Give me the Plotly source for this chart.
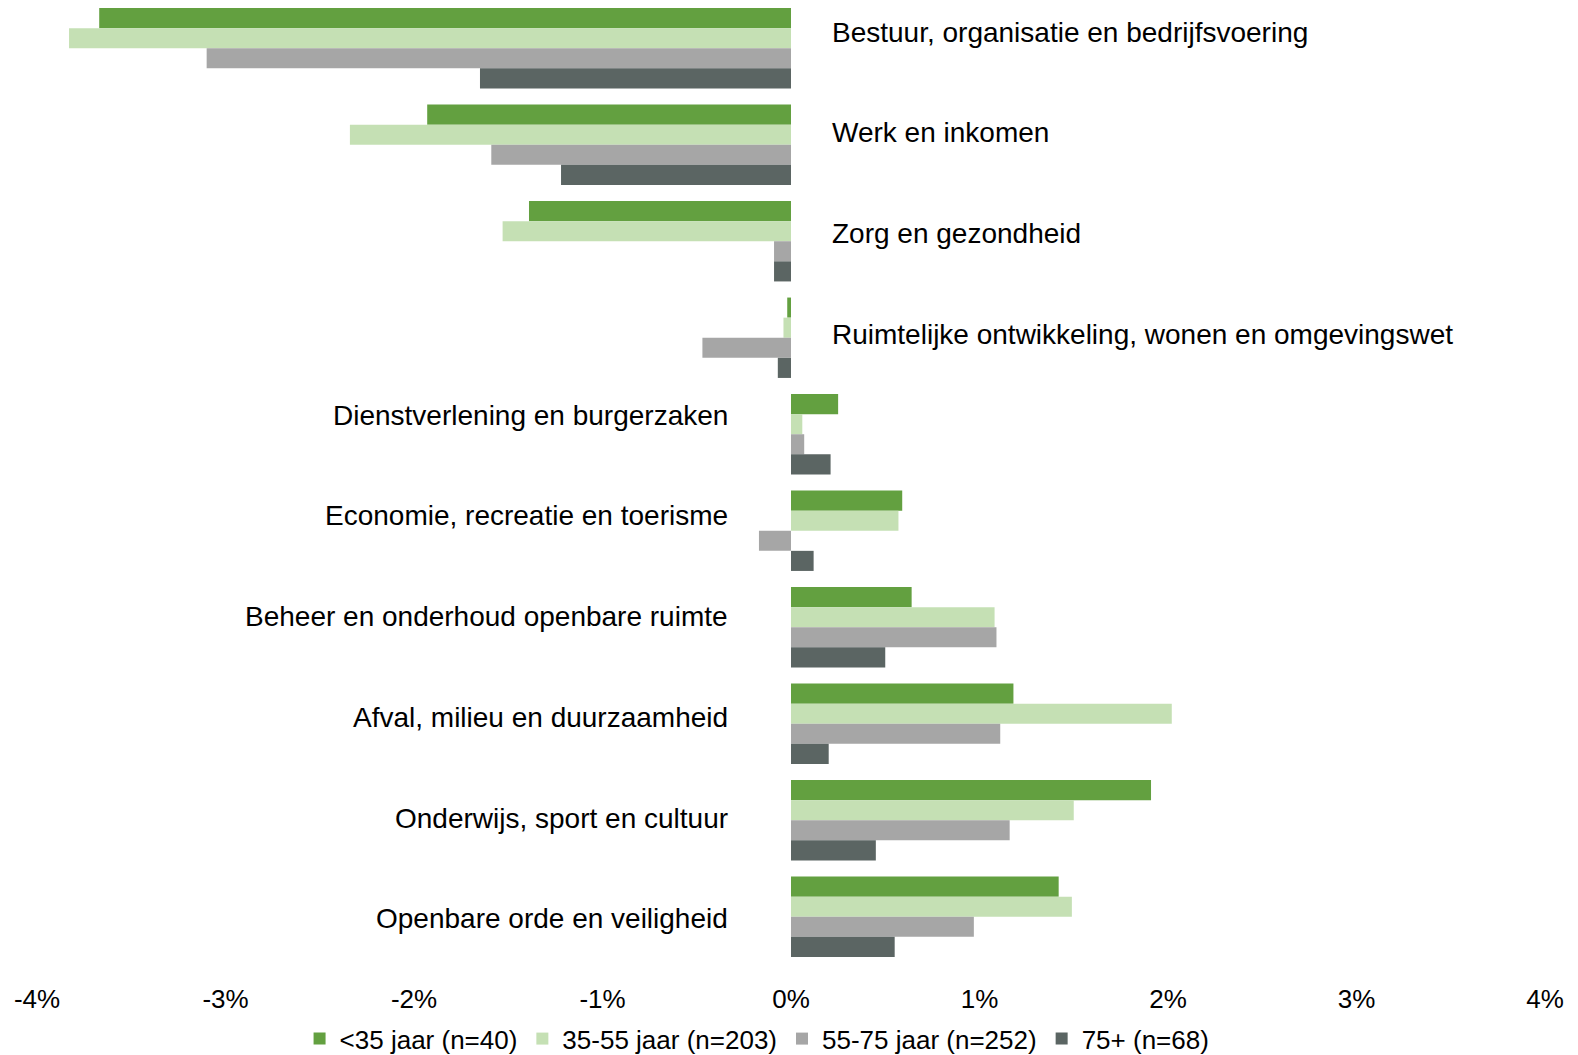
import plotly.graph_objects as go

categories = [
    "Bestuur, organisatie en bedrijfsvoering",
    "Werk en inkomen",
    "Zorg en gezondheid",
    "Ruimtelijke ontwikkeling, wonen en omgevingswet",
    "Dienstverlening en burgerzaken",
    "Economie, recreatie en toerisme",
    "Beheer en onderhoud openbare ruimte",
    "Afval, milieu en duurzaamheid",
    "Onderwijs, sport en cultuur",
    "Openbare orde en veiligheid",
]

# verschil in procentpunten per leeftijdsgroep
u35 = [-3.67, -1.93, -1.39, -0.02, 0.25, 0.59, 0.64, 1.18, 1.91, 1.42]
g35_55 = [-3.83, -2.34, -1.53, -0.04, 0.06, 0.57, 1.08, 2.02, 1.50, 1.49]
g55_75 = [-3.10, -1.59, -0.09, -0.47, 0.07, -0.17, 1.09, 1.11, 1.16, 0.97]
g75 = [-1.65, -1.22, -0.09, -0.07, 0.21, 0.12, 0.50, 0.20, 0.45, 0.55]

series = [
    ("<35 jaar (n=40)", u35, "#63a040"),
    ("35-55 jaar (n=203)", g35_55, "#c5e0b4"),
    ("55-75 jaar (n=252)", g55_75, "#a6a6a6"),
    ("75+ (n=68)", g75, "#5b6563"),
]

tick_vals = [-4, -3, -2, -1, 0, 1, 2, 3, 4]
tick_text = ["-4%", "-3%", "-2%", "-1%", "0%", "1%", "2%", "3%", "4%"]

fig = go.Figure()
for name, vals, col in series:
    fig.add_trace(go.Bar(
        y=categories, x=vals, name=name, orientation="h",
        marker=dict(color=col, line=dict(width=0)),
    ))

# labels naast de nullijn: links bij positieve, rechts bij negatieve categorieen
k_right = 0
k_left = 0
for i, cat in enumerate(categories):
    total = u35[i] + g35_55[i] + g55_75[i] + g75[i]
    if total < 0:
        fig.add_annotation(x=0, y=cat, text=cat, showarrow=False, xanchor="left",
                           xshift=39, yshift=16 - 4.2 * k_right,
                           font=dict(size=28, color="black"))
        k_right += 1
    else:
        fig.add_annotation(x=0, y=cat, text=cat, showarrow=False, xanchor="right",
                           xshift=-61, yshift=19 - 4.2 * k_left,
                           font=dict(size=28, color="black"))
        k_left += 1

# pagina heeft 8px body-marge, dus figuur iets kleiner
fig.update_layout(
    width=1570, height=1047,
    barmode="group", bargap=0.167, bargroupgap=0,
    plot_bgcolor="white", paper_bgcolor="white",
    margin=dict(l=29, r=33, t=0, b=90, autoexpand=False),
    font=dict(family="Liberation Sans, Arial", color="black"),
    xaxis=dict(range=[-4, 4], tickvals=tick_vals, ticktext=tick_text,
               showgrid=False, zeroline=False, showline=False,
               tickfont=dict(size=26), ticklabelstandoff=16),
    yaxis=dict(range=[9.5, -0.417], showticklabels=False, showgrid=False,
               zeroline=False, showline=False),
    legend=dict(orientation="h", x=0.4775, xanchor="center", y=-0.077, yanchor="middle",
                font=dict(size=26), itemwidth=30, traceorder="normal"),
)

fig.write_html("out.html")
